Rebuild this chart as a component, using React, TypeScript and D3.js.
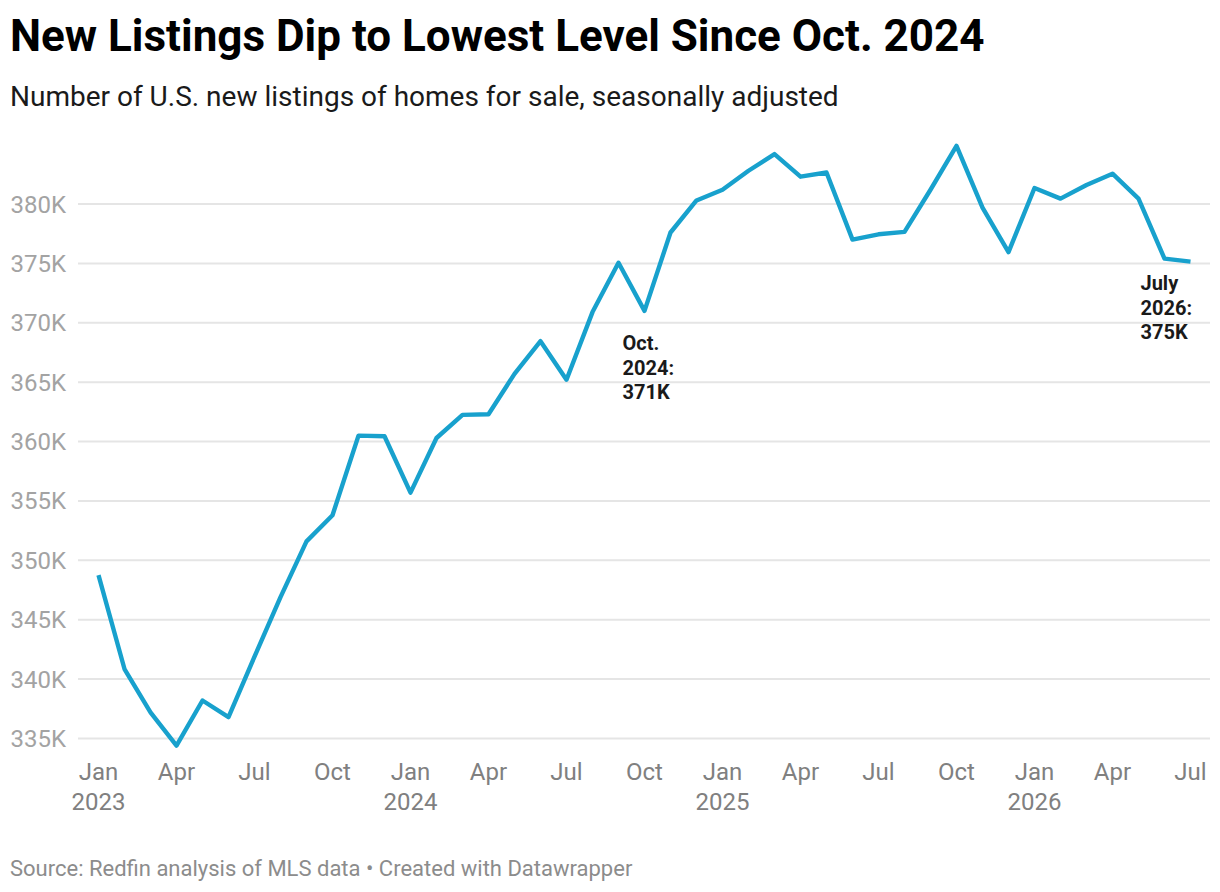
import * as d3 from 'd3';

// values in thousands, Jan 2023 - Jul 2026
const listings = [
  348.76, 340.85, 337.2, 334.4, 338.2, 336.8, 341.9, 346.9, 351.6, 353.8, 360.5, 360.45,
  355.7, 360.3, 362.25, 362.3, 365.7, 368.45, 365.2, 370.9, 375.05, 371.0, 377.6, 380.3,
  381.2, 382.8, 384.2, 382.3, 382.65, 377.0, 377.45, 377.65, 381.2, 384.9, 379.7, 375.95,
  381.35, 380.45, 381.6, 382.55, 380.45, 375.4, 375.15,
];
const yTicks = [335, 340, 345, 350, 355, 360, 365, 370, 375, 380];
const xTicks = [0, 3, 6, 9, 12, 15, 18, 21, 24, 27, 30, 33, 36, 39, 42];
const monthNames = ['Jan', 'Apr', 'Jul', 'Oct'];
const notes = [
  {index: 21, lines: ['Oct.', '2024:', '371K'], dx: -22, top: 343},
  {index: 42, lines: ['July', '2026:', '375K'], dx: -50, top: 283},
];

const width = 1220;
const height = 892;
const font = 'Roboto, sans-serif';

const x = d3.scaleLinear().domain([0, 42]).range([98.5, 1190.5]);
const y = d3.scaleLinear().domain([335, 380]).range([738.5, 204]);
const line = d3.line<number>().x((d, i) => x(i)).y(d => y(d));

export default function App() {
  return (
    <svg width={width} height={height} style={{position: 'absolute', left: 0, top: 0, background: '#fff'}} fontFamily={font}>
      <text x={10} y={50.5} fontSize={44} fontWeight={700} fill="#000">New Listings Dip to Lowest Level Since Oct. 2024</text>
      <text x={10} y={106} fontSize={28} fill="#1a1a1a">Number of U.S. new listings of homes for sale, seasonally adjusted</text>

      {yTicks.map(t => (
        <g key={t}>
          <line x1={78} x2={1210} y1={y(t)} y2={y(t)} stroke="#e5e5e5" strokeWidth={2} />
          <text x={66} y={y(t) + 8.5} textAnchor="end" fontSize={24} fill="#a3a3a3">{t}K</text>
        </g>
      ))}

      <path d={line(listings) ?? ''} fill="none" stroke="#18a1cd" strokeWidth={4.4} strokeLinejoin="round" />

      {xTicks.map(t => (
        <g key={t} fontSize={24} fill="#808080" textAnchor="middle">
          <text x={x(t)} y={780}>{monthNames[(t % 12) / 3]}</text>
          {t % 12 === 0 && <text x={x(t)} y={810}>{2023 + t / 12}</text>}
        </g>
      ))}

      {notes.map(n => (
        <text key={n.index} fontSize={20} fontWeight={700} fill="#1a1a1a">
          {n.lines.map((l, i) => (
            <tspan key={l} x={x(n.index) + n.dx} y={n.top + 7 + i * 24.5}>{l}</tspan>
          ))}
        </text>
      ))}

      <text x={10} y={876} fontSize={22} fill="#8c8c8c">Source: Redfin analysis of MLS data • Created with Datawrapper</text>
    </svg>
  );
}
